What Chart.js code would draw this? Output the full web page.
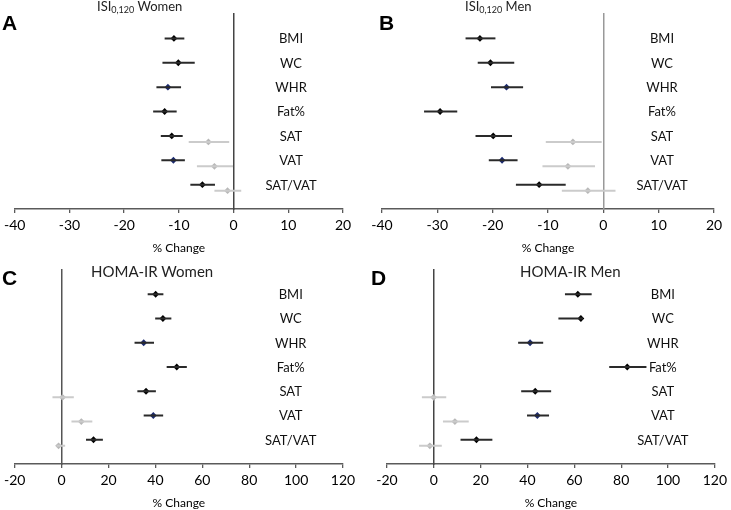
<!DOCTYPE html>
<html>
<head>
<meta charset="utf-8">
<script src="https://cdn.jsdelivr.net/npm/chart.js@4.4.1/dist/chart.umd.min.js"></script>
<style>
    body { margin: 0; background: #fff; }
    #wrap { position: relative; width: 731px; height: 510px; font-family: Lato, sans-serif; }
    canvas { position: absolute; }
    .letter { position: absolute; font: bold 21px/1 "Liberation Sans", Arial, sans-serif; color: #000; }
    .title { position: absolute; color: #222; white-space: nowrap; }
    .title.small { font-size: 13px; }
    .title.big { font-size: 15px; }
    .title sub { font-size: 9px; vertical-align: -2px; }
</style>
</head>
<body>
<div id="wrap">
    <canvas id="chartA" width="365" height="255" style="left:0;top:0"></canvas>
    <canvas id="chartB" width="366" height="255" style="left:365px;top:0"></canvas>
    <canvas id="chartC" width="365" height="255" style="left:0;top:255px"></canvas>
    <canvas id="chartD" width="366" height="255" style="left:365px;top:255px"></canvas>

    <div class="letter" style="left:2px;top:12px">A</div>
    <div class="letter" style="left:379px;top:12px">B</div>
    <div class="letter" style="left:2px;top:267px">C</div>
    <div class="letter" style="left:371px;top:267px">D</div>

    <div class="title small" style="left:97px;top:-2px">ISI<sub>0,120</sub> Women</div>
    <div class="title small" style="left:465px;top:-2px">ISI<sub>0,120</sub> Men</div>
    <div class="title big" style="left:91px;top:262px">HOMA-IR Women</div>
    <div class="title big" style="left:520px;top:262px">HOMA-IR Men</div>
</div>
<script>
//====================================
// DATOS
//====================================
const categories = ['BMI', 'WC', 'WHR', 'Fat%', 'SAT', 'VAT', 'SAT/VAT'];

// ISI0,120 mujeres
const isiWomenEst = [-10.9, -10.1, -12.0, -12.6, -11.3, -11.0, -5.7];
const isiWomenLo = [-12.6, -13.0, -14.1, -14.7, -13.3, -13.2, -7.9];
const isiWomenHi = [-9.0, -7.1, -9.6, -10.4, -9.3, -8.9, -3.4];
const isiWomenAdjEst = [null, null, null, null, -4.6, -3.5, -1.1];
const isiWomenAdjLo = [null, null, null, null, -8.2, -6.7, -3.5];
const isiWomenAdjHi = [null, null, null, null, -0.8, -0.1, 1.4];

// ISI0,120 hombres
const isiMenEst = [-22.3, -20.4, -17.5, -29.5, -19.9, -18.3, -11.6];
const isiMenLo = [-24.9, -22.7, -20.3, -32.4, -23.1, -20.7, -15.8];
const isiMenHi = [-19.5, -16.1, -14.5, -26.4, -16.5, -15.5, -6.8];
const isiMenAdjEst = [null, null, null, null, -5.5, -6.4, -2.8];
const isiMenAdjLo = [null, null, null, null, -10.4, -11.0, -7.5];
const isiMenAdjHi = [null, null, null, null, -0.3, -1.5, 2.2];

// HOMA-IR mujeres
const homaWomenEst = [40.1, 43.2, 35.0, 49.1, 36.0, 39.1, 13.6];
const homaWomenLo = [36.7, 39.9, 31.1, 44.8, 32.3, 35.0, 10.4];
const homaWomenHi = [43.4, 46.8, 39.4, 53.4, 40.2, 43.3, 17.6];
const homaWomenAdjEst = [null, null, null, null, 0.4, 8.4, -1.3];
const homaWomenAdjLo = [null, null, null, null, -3.9, 4.2, -2.2];
const homaWomenAdjHi = [null, null, null, null, 5.2, 13.1, 1.5];

// HOMA-IR hombres
const homaMenEst = [61.5, 62.8, 41.1, 82.6, 43.3, 44.2, 18.2];
const homaMenLo = [56.0, 53.2, 36.0, 74.9, 37.3, 39.8, 11.4];
const homaMenHi = [67.4, 63.7, 46.7, 90.8, 50.1, 49.2, 25.0];
const homaMenAdjEst = [null, null, null, null, -0.1, 9.0, -1.7];
const homaMenAdjLo = [null, null, null, null, -5.1, 3.9, -6.3];
const homaMenAdjHi = [null, null, null, null, 5.3, 14.9, 3.4];

// Ejes
const isiTicks = { min: -40, max: 20, step: 10 };
const homaTicks = { min: -20, max: 120, step: 20 };

//====================================
// ESTILOS
//====================================
const BLACK_LINE = '#2a2a2a';
const BLACK_POINT = '#000000';
const BLUE_POINT = '#1b2a6e';
const GRAY_LINE = '#cbcbcb';
const GRAY_POINT = '#b8b8b8';
const AXIS_COLOR = '#5a5a5a';
const blueRows = ['WHR', 'VAT'];
const ADJ_OFFSET = 0.25; // desplazamiento vertical de la serie gris

// Etiquetas de las filas dentro del grafico
const rowLabels = {
    id: 'rowLabels',
    afterDatasetsDraw(chart, args, opts) {
        const { ctx, scales: { x, y } } = chart;
        ctx.save();
        ctx.font = '13px Lato, sans-serif';
        ctx.fillStyle = '#111';
        ctx.textAlign = 'center';
        ctx.textBaseline = 'middle';
        categories.forEach((c, i) => {
            ctx.fillText(c, x.getPixelForValue(opts.at), y.getPixelForValue(i + 0.03));
        });
        ctx.restore();
    }
};

function errorBars(lo, hi, offset, color) {
    const sets = [];
    categories.forEach((c, i) => {
        if (lo[i] === null) return;
        sets.push({
            data: [{ x: lo[i], y: i + offset }, { x: hi[i], y: i + offset }],
            showLine: true,
            borderColor: color,
            borderWidth: 2,
            pointRadius: 0
        });
    });
    return sets;
}

function points(est, offset, colors) {
    const data = [];
    const bg = [];
    categories.forEach((c, i) => {
        if (est[i] === null) return;
        data.push({ x: est[i], y: i + offset });
        bg.push(colors[i]);
    });
    return {
        data: data,
        pointStyle: 'rectRot',
        pointRadius: 3.4,
        pointBackgroundColor: bg,
        pointBorderColor: bg,
        pointBorderWidth: 0,
        showLine: false
    };
}

function makePanel(id, s, axis, labelAt, pad, zeroColor) {
    const mainColors = categories.map(c => blueRows.includes(c) ? BLUE_POINT : BLACK_POINT);
    const grayColors = categories.map(() => GRAY_POINT);

    const datasets = []
        .concat(errorBars(s.adjLo, s.adjHi, ADJ_OFFSET, GRAY_LINE))
        .concat(errorBars(s.lo, s.hi, 0, BLACK_LINE))
        .concat([points(s.adjEst, ADJ_OFFSET, grayColors), points(s.est, 0, mainColors)]);

    new Chart(document.getElementById(id), {
        type: 'scatter',
        data: { datasets: datasets },
        options: {
            responsive: false,
            animation: false,
            devicePixelRatio: 1,
            events: [],
            layout: { padding: pad },
            plugins: {
                legend: { display: false },
                tooltip: { enabled: false },
                rowLabels: { at: labelAt }
            },
            scales: {
                x: {
                    type: 'linear',
                    min: axis.min,
                    max: axis.max,
                    ticks: {
                        stepSize: axis.step,
                        color: '#000',
                        padding: 4,
                        font: { family: 'Lato', size: 14 }
                    },
                    grid: { drawOnChartArea: false, tickLength: 4, color: AXIS_COLOR, lineWidth: 1.3 },
                    border: { color: AXIS_COLOR, width: 1.5 },
                    title: {
                        display: true,
                        text: '% Change',
                        color: '#000',
                        padding: 0,
                        font: { family: 'Lato', size: 12 }
                    },
                    afterFit: function (scale) { scale.height = 46; }
                },
                y: {
                    type: 'linear',
                    min: -1,
                    max: 7,
                    reverse: true,
                    position: { x: 0 },
                    ticks: { display: false },
                    grid: { display: false },
                    border: { color: zeroColor, width: 1.5 }
                }
            }
        },
        plugins: [rowLabels]
    });
}

document.addEventListener('DOMContentLoaded', function () {
    makePanel('chartA', {
        est: isiWomenEst, lo: isiWomenLo, hi: isiWomenHi,
        adjEst: isiWomenAdjEst, adjLo: isiWomenAdjLo, adjHi: isiWomenAdjHi
    }, isiTicks, 10.5, { left: 11, right: 22, top: 14, bottom: 0 }, '#444');

    makePanel('chartB', {
        est: isiMenEst, lo: isiMenLo, hi: isiMenHi,
        adjEst: isiMenAdjEst, adjLo: isiMenAdjLo, adjHi: isiMenAdjHi
    }, isiTicks, 10.6, { left: 17, right: 17, top: 14, bottom: 0 }, '#999');

    makePanel('chartC', {
        est: homaWomenEst, lo: homaWomenLo, hi: homaWomenHi,
        adjEst: homaWomenAdjEst, adjLo: homaWomenAdjLo, adjHi: homaWomenAdjHi
    }, homaTicks, 97.7, { left: 11, right: 22, top: 15, bottom: 0 }, '#555');

    makePanel('chartD', {
        est: homaMenEst, lo: homaMenLo, hi: homaMenHi,
        adjEst: homaMenAdjEst, adjLo: homaMenAdjLo, adjHi: homaMenAdjHi
    }, homaTicks, 97.8, { left: 22, right: 12, top: 15, bottom: 0 }, '#444');
});
</script>
</body>
</html>
